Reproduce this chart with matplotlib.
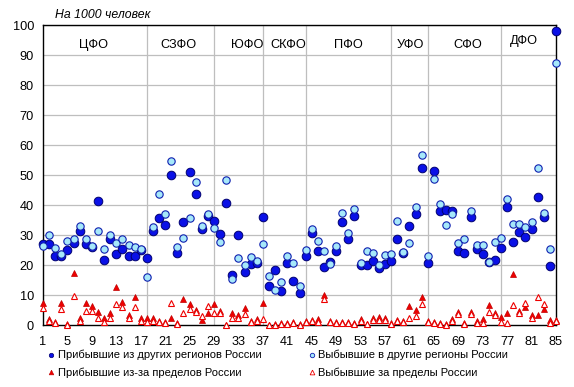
import matplotlib
matplotlib.use("Agg")
import matplotlib.pyplot as plt
from matplotlib.lines import Line2D

plt.rcParams['font.family'] = ['Liberation Sans', 'DejaVu Sans']

regions = list(range(1, 86))

arrived_regions = [26.9, 26.9, 23.0, 23.0, 25.0, 27.4, 31.2, 27.1, 26.0, 41.3,
                   21.6, 28.8, 23.8, 25.4, 22.9, 22.9, 25.0, 22.2, 31.4, 35.6,
                   33.2, 50.0, 24.1, 34.3, 51.0, 43.6, 31.9, 36.3, 34.7, 30.2,
                   40.6, 16.7, 29.9, 17.6, 20.3, 20.6, 35.9, 13.0, 18.3, 11.4,
                   20.6, 14.7, 10.8, 23.1, 30.8, 24.7, 19.2, 20.9, 24.8, 34.2,
                   28.7, 36.2, 20.0, 20.0, 21.2, 18.9, 20.2, 21.3, 28.6, 23.9,
                   32.9, 37.0, 52.4, 20.8, 51.3, 38.1, 38.3, 38.1, 24.7, 24.1,
                   35.9, 25.4, 23.6, 20.9, 21.6, 25.6, 39.2, 27.6, 30.9, 29.2,
                   31.9, 42.8, 36.1, 19.7, 98.0]

departed_regions = [26.3, 30.0, 25.8, 23.6, 28.1, 28.6, 33.0, 28.7, 26.4, 31.4,
                    25.3, 30.0, 27.4, 28.6, 26.7, 26.1, 25.3, 16.1, 32.6, 43.6,
                    37.0, 54.7, 26.1, 28.9, 35.8, 47.8, 33.0, 37.0, 32.4, 27.8,
                    48.3, 15.3, 22.4, 20.0, 22.8, 21.4, 27.0, 16.3, 11.7, 14.4,
                    23.1, 20.6, 13.1, 25.0, 32.0, 27.9, 24.7, 20.3, 26.3, 37.4,
                    30.6, 38.8, 20.7, 24.8, 24.1, 20.1, 23.4, 23.7, 34.8, 24.4,
                    27.4, 39.4, 56.7, 23.1, 48.7, 40.2, 33.3, 37.1, 27.4, 28.7,
                    38.1, 26.7, 26.7, 20.9, 27.6, 29.1, 42.0, 33.6, 33.7, 32.6,
                    34.4, 52.3, 37.4, 25.3, 87.2]

arrived_abroad = [7.2, 2.0, 1.1, 7.2, 0.2, 17.4, 2.2, 7.4, 6.4, 4.4,
                  2.2, 3.9, 12.7, 7.6, 3.5, 9.2, 2.2, 2.4, 2.4, 1.2,
                  1.1, 2.4, 0.6, 8.6, 7.0, 5.0, 1.7, 4.1, 6.9, 4.7,
                  0.0, 4.1, 3.3, 5.6, 1.4, 2.0, 7.4, 0.0, 0.2, 0.6,
                  0.6, 1.1, 0.2, 1.3, 1.7, 1.9, 10.0, 1.3, 0.9, 1.1,
                  1.1, 0.6, 2.0, 0.3, 2.2, 2.8, 2.2, 0.8, 1.7, 1.4,
                  6.4, 5.0, 9.4, 1.3, 1.1, 0.6, 0.2, 1.9, 4.4, 0.6,
                  4.4, 1.2, 2.0, 6.8, 4.1, 2.8, 4.1, 17.1, 4.8, 6.1,
                  3.3, 3.3, 5.2, 1.7, 1.7]

departed_abroad = [5.6, 1.3, 0.8, 5.2, 0.1, 9.7, 1.5, 4.8, 4.6, 2.2,
                   1.1, 2.4, 6.9, 6.0, 2.4, 6.1, 1.5, 1.1, 1.5, 0.9,
                   0.7, 7.4, 0.4, 4.1, 5.2, 4.2, 3.1, 6.4, 3.9, 3.9,
                   0.0, 2.2, 2.4, 3.6, 1.0, 1.4, 1.9, 0.0, 0.1, 0.3,
                   0.3, 0.7, 0.1, 0.9, 1.2, 1.1, 8.6, 0.9, 0.6, 0.7,
                   0.7, 0.4, 1.5, 0.2, 1.6, 1.7, 1.6, 0.5, 1.2, 1.0,
                   2.4, 3.1, 6.9, 0.9, 0.8, 0.4, 0.1, 1.4, 3.7, 0.4,
                   3.6, 0.8, 0.6, 4.4, 3.3, 1.1, 0.8, 6.7, 4.1, 7.4,
                   2.5, 9.4, 6.9, 0.6, 1.2]

districts = ['ЦФО', 'СЗФО', 'ЮФО', 'СКФО', 'ПФО', 'УФО', 'СФО', 'ДФО']
district_label_x = [9.3, 23.2, 34.5, 41.1, 51.0, 61.1, 70.5, 79.7]
district_ends = [18, 29, 37, 44, 58, 64, 76]

xticks = list(range(1, 86, 4))
yticks = list(range(0, 101, 10))

series_labels = ['Прибывшие из других регионов России',
                 'Выбывшие в другие регионы России',
                 'Прибывшие из-за пределов России',
                 'Выбывшие за пределы России']

fig = plt.figure(figsize=(5.74, 3.87), dpi=100)
ax = fig.add_axes([43/574, 62/387, 513/574, 300/387])

grid_c = '#BEBEBE'
for yv in yticks[1:]:
    ax.axhline(yv, color=grid_c, lw=0.9, zorder=0)
for xv in district_ends:
    ax.axvline(xv, color=grid_c, lw=0.9, zorder=0)

ax.plot(regions, arrived_regions, 'o', ms=6.2, mfc='#0A10E6', mec='#000070',
        mew=0.7, clip_on=False, zorder=3)
ax.plot(regions, departed_regions, 'o', ms=5.3, mfc='#A6E8FA', mec='#1020B0',
        mew=0.8, clip_on=False, zorder=4)
ax.plot(regions, arrived_abroad, '^', ms=5.0, mfc='#EE0000', mec='#C00000',
        mew=0.5, clip_on=False, zorder=5)
ax.plot(regions, departed_abroad, '^', ms=5.0, mfc='white', mec='#EE0000',
        mew=0.8, clip_on=False, zorder=6)

for name, xv in zip(districts, district_label_x):
    yv = 94.7 if name == 'ДФО' else 93.3
    ax.text(xv, yv, name, ha='center', va='center', fontsize=9.2, zorder=7)

ax.set_xlim(1, 85)
ax.set_ylim(0, 100)
ax.set_xticks(xticks)
ax.set_yticks(yticks)
ax.tick_params(axis='both', length=0, labelsize=9.2)
ax.tick_params(axis='x', pad=8)
ax.tick_params(axis='y', pad=6.5)
for s in ax.spines.values():
    s.set_color('black')
    s.set_linewidth(1.0)

fig.text(55/574, 1 - 15/387, 'На 1000 человек', fontsize=8.8, style='italic',
         ha='left', va='center')

h1 = Line2D([], [], ls='none', marker='o', ms=3.2, mfc='#0A10E6', mec='#000070', mew=0.5)
h2 = Line2D([], [], ls='none', marker='o', ms=3.2, mfc='#A6E8FA', mec='#1020B0', mew=0.6)
h3 = Line2D([], [], ls='none', marker='^', ms=3.4, mfc='#EE0000', mec='#C00000', mew=0.4)
h4 = Line2D([], [], ls='none', marker='^', ms=3.4, mfc='white', mec='#EE0000', mew=0.6)
fig.legend([h1, h3, h2, h4],
           [series_labels[0], series_labels[2], series_labels[1], series_labels[3]],
           ncol=2, loc='upper left', bbox_to_anchor=(48/574, 1 - 350/387),
           frameon=False, fontsize=8, handlelength=0.6, handletextpad=0.3,
           columnspacing=4.2, labelspacing=0.6, borderaxespad=0, borderpad=0)

fig.savefig('out.png', dpi=100)
